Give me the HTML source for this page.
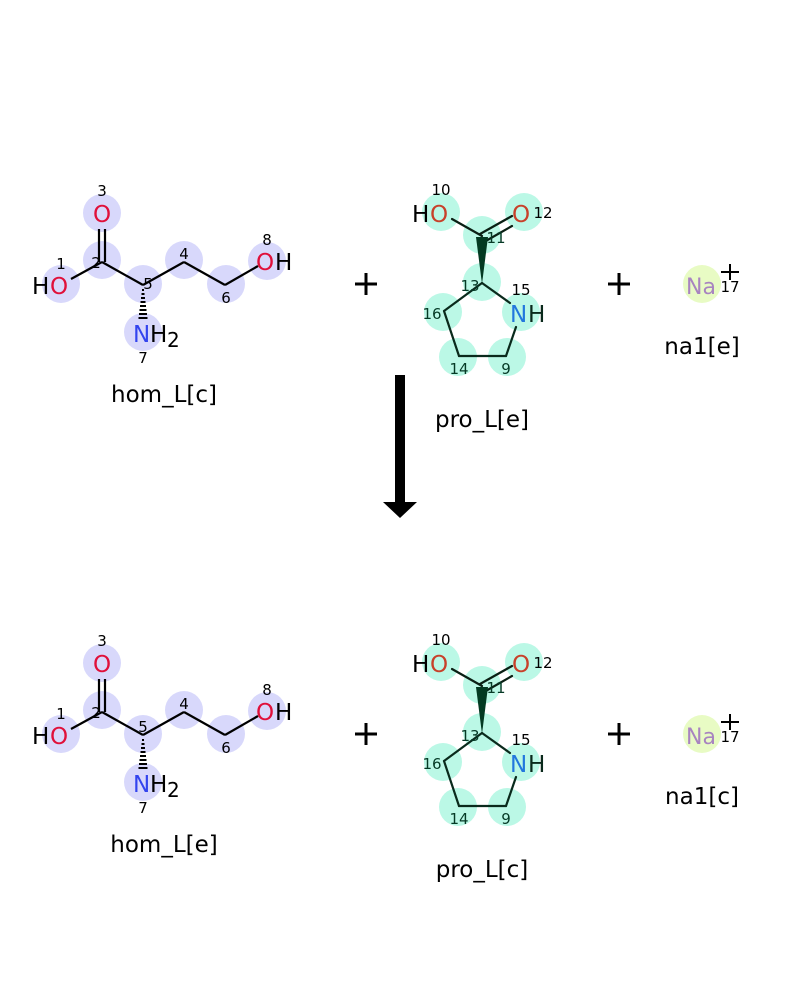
<!DOCTYPE html>
<html><head><meta charset="utf-8"><style>
html,body{margin:0;padding:0;background:#fff;}
svg{display:block;}
text{font-family:"DejaVu Sans","Liberation Sans",sans-serif;}
</style></head><body>
<svg width="800" height="1000" viewBox="0 0 800 1000" xmlns="http://www.w3.org/2000/svg">
<defs>
<g id="hom">
  <g fill="#d8d8fb">
    <circle cx="102" cy="213" r="19"/><circle cx="102" cy="260" r="19"/>
    <circle cx="61" cy="284" r="19"/><circle cx="143" cy="284" r="19"/>
    <circle cx="184" cy="260" r="19"/><circle cx="226" cy="284" r="19"/>
    <circle cx="267" cy="261" r="19"/><circle cx="143" cy="332" r="19"/>
  </g>
  <g stroke="#000" stroke-width="2.2" fill="none">
    <line x1="71" y1="279" x2="102" y2="262"/>
    <line x1="102" y1="262" x2="143" y2="285"/>
    <line x1="143" y1="285" x2="184" y2="262"/>
    <line x1="184" y1="262" x2="225" y2="285"/>
    <line x1="225" y1="285" x2="258" y2="266"/>
    <line x1="99" y1="262" x2="99" y2="229"/>
    <line x1="105" y1="262" x2="105" y2="229"/>
  </g>
  <g stroke="#000" stroke-width="2">
    <line x1="142" y1="290" x2="144" y2="290"/><line x1="141.5" y1="294" x2="144.5" y2="294"/>
    <line x1="141" y1="298" x2="145" y2="298"/><line x1="140.5" y1="302" x2="145.5" y2="302"/>
    <line x1="140" y1="306" x2="146" y2="306"/><line x1="139.5" y1="310" x2="146.5" y2="310"/>
    <line x1="139" y1="314" x2="147" y2="314"/><line x1="138.5" y1="318" x2="147.5" y2="318"/>
  </g>
  <g font-size="23">
    <text x="102" y="222" text-anchor="middle" fill="#e0103a">O</text>
    <text x="32" y="294" fill="#000">H</text>
    <text x="50" y="294" fill="#e0103a">O</text>
    <text x="256" y="270" fill="#e0103a">O</text>
    <text x="275" y="270" fill="#000">H</text>
    <text x="133" y="342" fill="#3344ee">N</text>
    <text x="150" y="342" fill="#000">H</text>
    <text x="167" y="347" fill="#000" font-size="20">2</text>
  </g>
  <g font-size="15" fill="#000" text-anchor="middle">
    <text x="102" y="196">3</text>
    <text x="61" y="269">1</text>
    <text x="96" y="268">2</text>
    <text x="184" y="259">4</text>
    <text x="226" y="303">6</text>
    <text x="267" y="245">8</text>
    <text x="143" y="363">7</text>
  </g>
</g>
<g id="pro">
  <g fill="#bbf8e6">
    <circle cx="441" cy="212" r="19"/><circle cx="524" cy="212" r="19"/>
    <circle cx="482" cy="235" r="19"/><circle cx="482" cy="282" r="19"/>
    <circle cx="443" cy="312" r="19"/><circle cx="521" cy="312" r="19"/>
    <circle cx="458" cy="357" r="19"/><circle cx="507" cy="357" r="19"/>
  </g>
  <g stroke-width="2.2" fill="none" stroke-linecap="round">
    <line x1="452" y1="219" x2="482" y2="236" stroke="#0a1f14"/>
    <line x1="480" y1="234" x2="512" y2="216" stroke="#0a1f14"/>
    <line x1="484" y1="242" x2="512" y2="226" stroke="#0a1f14"/>
    <line x1="482" y1="283" x2="444" y2="311" stroke="#0a2a1c"/>
    <line x1="444" y1="311" x2="459" y2="356" stroke="#0a2a1c"/>
    <line x1="459" y1="356" x2="506" y2="356" stroke="#0a2a1c"/>
    <line x1="506" y1="356" x2="516" y2="327" stroke="#0a2a1c"/>
    <line x1="482" y1="283" x2="510" y2="303" stroke="#0a2a1c"/>
  </g>
  <polygon points="482,284 476,237 488,237" fill="#033a22"/>
  <g font-size="23">
    <text x="412" y="222" fill="#000">H</text>
    <text x="430" y="222" fill="#c8412a">O</text>
    <text x="512" y="222" fill="#c8412a">O</text>
    <text x="510" y="322" fill="#2277dd">N</text>
    <text x="528" y="322" fill="#0a2a1c">H</text>
  </g>
  <g font-size="15" fill="#063a26" text-anchor="middle">
    <text x="441" y="195" fill="#000">10</text>
    <text x="543" y="218" fill="#000">12</text>
    <text x="496" y="243">11</text>
    <text x="470" y="291">13</text>
    <text x="521" y="295" fill="#000">15</text>
    <text x="432" y="319">16</text>
    <text x="459" y="374">14</text>
    <text x="506" y="374">9</text>
  </g>
</g>
<g id="na">
  <circle cx="702" cy="284" r="19" fill="#e8fbc4"/>
  <text x="686" y="294" font-size="22" fill="#a884c0">Na</text>
  <text x="730" y="292" font-size="15" fill="#000" text-anchor="middle">17</text>
  <line x1="721" y1="272" x2="739" y2="272" stroke="#000" stroke-width="2"/>
  <line x1="730" y1="264" x2="730" y2="280" stroke="#000" stroke-width="2"/>
</g>
<g id="plus">
  <line x1="355" y1="284" x2="377" y2="284" stroke="#000" stroke-width="3"/>
  <line x1="366" y1="273" x2="366" y2="295" stroke="#000" stroke-width="3"/>
  <line x1="608" y1="284" x2="630" y2="284" stroke="#000" stroke-width="3"/>
  <line x1="619" y1="273" x2="619" y2="295" stroke="#000" stroke-width="3"/>
</g>
</defs>

<use href="#hom"/>
<text x="148" y="289" font-size="15" text-anchor="middle" fill="#000">5</text>
<use href="#pro"/>
<use href="#na"/>
<use href="#plus"/>
<g font-size="23" fill="#000" text-anchor="middle">
  <text x="164" y="402">hom_L[c]</text>
  <text x="482" y="427">pro_L[e]</text>
  <text x="702" y="354">na1[e]</text>
</g>

<rect x="395" y="375" width="10" height="128" fill="#000"/>
<polygon points="383,502 417,502 400,518" fill="#000"/>

<g transform="translate(0,450)">
  <use href="#hom"/>
  <text x="143" y="282" font-size="15" text-anchor="middle" fill="#000">5</text>
  <use href="#pro"/>
  <use href="#na"/>
  <use href="#plus"/>
</g>
<g font-size="23" fill="#000" text-anchor="middle">
  <text x="164" y="852">hom_L[e]</text>
  <text x="482" y="877">pro_L[c]</text>
  <text x="702" y="804">na1[c]</text>
</g>
</svg>
</body></html>
